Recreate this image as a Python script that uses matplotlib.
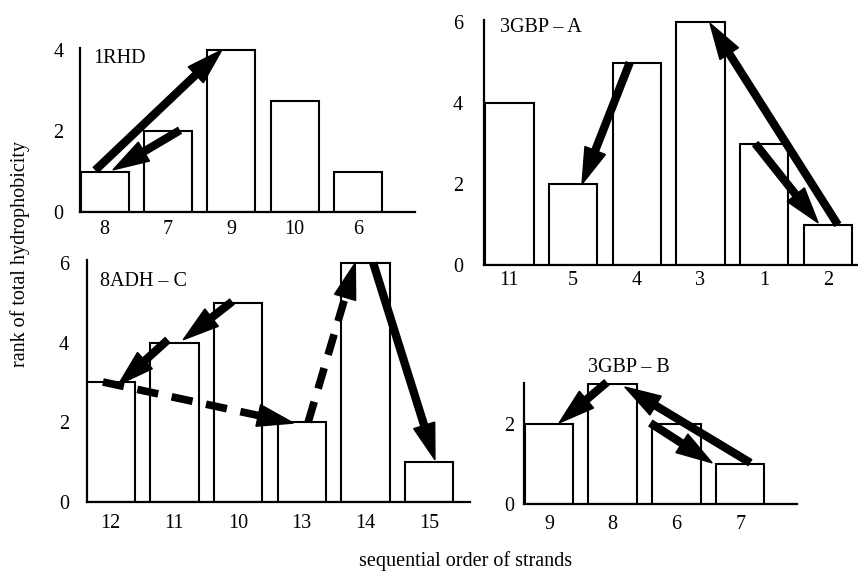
import matplotlib
matplotlib.use('Agg')
import matplotlib.pyplot as plt
from matplotlib.patches import Polygon
import numpy as np

plt.rcParams['font.family'] = ['Liberation Serif', 'DejaVu Serif']
plt.rcParams['font.size'] = 14.5

# bar data (strand order, rank)
rhd_strands = ['8', '7', '9', '10', '6']
rhd_rank = [1, 2, 4, 2.75, 1]
gbpa_strands = ['11', '5', '4', '3', '1', '2']
gbpa_rank = [4, 2, 5, 6, 3, 1]
adh_strands = ['12', '11', '10', '13', '14', '15']
adh_rank = [3, 4, 5, 2, 6, 1]
gbpb_strands = ['9', '8', '6', '7']
gbpb_rank = [2, 3, 2, 1]

# arrows: tail x, tail y, head x, head y, style
rhd_arrows = [(-0.15, 1.03, 1.85, 4.0, '-'), (1.19, 2.02, 0.13, 1.04, '-')]
gbpa_arrows = [(1.89, 5.0, 1.14, 2.0, '-'), (3.86, 3.0, 4.85, 1.04, '-'),
               (5.16, 0.99, 3.15, 5.97, '-')]
adh_arrows = [(1.91, 5.03, 1.14, 4.07, '-'), (0.9, 4.07, 0.12, 2.94, '-'),
              (-0.12, 3.01, 2.87, 1.98, '--'), (3.1, 2.0, 3.84, 6.0, '--'),
              (4.12, 6.0, 5.09, 1.06, '-')]
gbpb_arrows = [(0.91, 3.05, 0.16, 2.03, '-'), (3.16, 1.03, 1.19, 2.93, '-'),
               (1.59, 2.03, 2.56, 1.03, '-')]

W, H = 858, 571
fig = plt.figure(figsize=(W / 100, H / 100), dpi=100)


def px_axes(x0, y0, x1, y1):
    # axes box given in pixel edges (top-left origin)
    return fig.add_axes([x0 / W, 1 - y1 / H, (x1 - x0) / W, (y1 - y0) / H])


def draw_arrow(ax, x0, y0, x1, y1, ls):
    tr = ax.transData
    p0 = tr.transform((x0, y0))
    p1 = tr.transform((x1, y1))
    d = p1 - p0
    u = d / np.hypot(*d)
    n = np.array([-u[1], u[0]])
    hl, hw = 36, 11
    base = p1 - u * hl
    b = tr.inverted().transform(base + u * 2)
    if ls == '--':
        ax.plot([x0, b[0]], [y0, b[1]], color='k', lw=5.5, dashes=(2.8, 1.8),
                dash_capstyle='butt', zorder=5, clip_on=False)
    else:
        ax.plot([x0, b[0]], [y0, b[1]], color='k', lw=6,
                solid_capstyle='butt', zorder=5, clip_on=False)
    pts = [p1, base + n * hw, base - n * hw]
    pts = tr.inverted().transform(pts)
    ax.add_patch(Polygon(pts, closed=True, color='k', zorder=6, clip_on=False))


def panel(ax, strands, rank, xlim, ylim, yticks, label, lxy, arrows, ypad, xpad):
    x = np.arange(len(strands))
    ax.bar(x, rank, width=0.76, color='white', edgecolor='black', linewidth=1.5, zorder=1)
    ax.set_xlim(*xlim)
    ax.set_ylim(*ylim)
    ax.set_xticks(x)
    ax.set_xticklabels(strands)
    ax.set_yticks(yticks)
    ax.tick_params(length=0)
    ax.tick_params(axis='y', pad=ypad)
    ax.tick_params(axis='x', pad=xpad)
    for s in ['top', 'right']:
        ax.spines[s].set_visible(False)
    for s in ['left', 'bottom']:
        ax.spines[s].set_linewidth(1.6)
    ax.patch.set_alpha(0)
    ax.text(lxy[0], lxy[1], label, ha='left', va='center', clip_on=False)
    for a in arrows:
        draw_arrow(ax, *a)


ax1 = px_axes(80, 48, 415, 212)
panel(ax1, rhd_strands, rhd_rank, (-0.39, 4.9), (0, 4.05), [0, 2, 4], '1RHD',
      (-0.18, 3.78), rhd_arrows, 12, 6)

ax2 = px_axes(484, 20, 857, 265)
panel(ax2, gbpa_strands, gbpa_rank, (-0.4, 5.46), (0, 6.05), [0, 2, 4, 6], '3GBP \u2013 A',
      (-0.15, 5.86), gbpa_arrows, 15, 4)

ax3 = px_axes(87, 260, 470, 502)
panel(ax3, adh_strands, adh_rank, (-0.37, 5.64), (0, 6.07), [0, 2, 4, 6], '8ADH \u2013 C',
      (-0.16, 5.53), adh_arrows, 13, 9)

ax4 = px_axes(524, 383, 797, 504)
panel(ax4, gbpb_strands, gbpb_rank, (-0.39, 3.89), (0, 3.03), [0, 2], '3GBP \u2013 B',
      (0.61, 3.43), gbpb_arrows, 7, 8)

fig.text(20 / W, 1 - 254 / H, 'rank of total hydrophobicity', rotation=90,
         ha='center', va='center')
fig.text(466 / W, 1 - 561 / H, 'sequential order of strands', ha='center', va='center')

fig.savefig('out.png', dpi=100)
